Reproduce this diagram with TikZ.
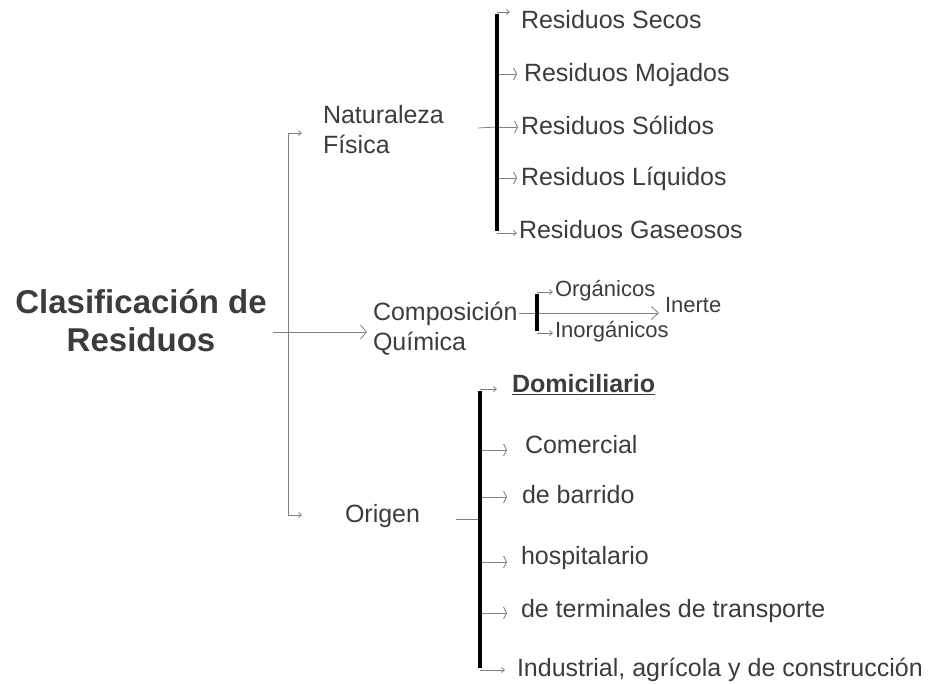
\documentclass[tikz,border=0pt]{standalone}
\usepackage{fontspec}
\setmainfont{Liberation Sans}
\usetikzlibrary{arrows.meta}
\definecolor{txt}{HTML}{3C3C3C}
\definecolor{ln}{HTML}{808080}
\tikzset{
  every node/.style={inner sep=0pt, outer sep=0pt, text=txt},
  lbl/.style={anchor=base west, font=\fontsize{25}{30}\selectfont},
  lblsm/.style={anchor=base west, font=\fontsize{22}{26}\selectfont},
  two/.style={anchor=west, align=left, font=\fontsize{25}{30}\selectfont},
  thinln/.style={draw=ln, line width=0.8pt},
  bar/.style={draw=black, line width=4pt},
  arrS/.style={thinln, -{Straight Barb[length=3pt,width=5pt]}},
  arrT/.style={thinln, -{Straight Barb[length=3pt,width=12pt]}},
  arrL/.style={thinln, -{Straight Barb[length=7pt,width=13pt]}},
}
\begin{document}
\begin{tikzpicture}[x=1pt,y=-1pt]
\useasboundingbox (0,0) rectangle (930,684);
% root
\node[align=center, font=\bfseries\fontsize{33}{38}\selectfont] (root) at (141,321) {Clasificación de\\Residuos};
% level 1
\node[two] (nat) at (323,130) {Naturaleza\\Física};
\node[two] (comp) at (373,329) {Composición\\Química};
\node[lbl] (orig) at (345,523) {Origen};
% spine
\coordinate (sT) at (288,133);
\coordinate (sB) at (288,515);
\coordinate (rR) at (273,332);
\draw[thinln] (sT) -- (sB);
\draw[arrS] (sT) -- ++(14,0);
\draw[arrS] (sB) -- ++(14,0);
\draw[thinln, -{Straight Barb[length=6pt,width=14pt]}] (rR) -- (367,332);
% Naturaleza fisica
\node[lbl] (n1) at (521,29) {Residuos Secos};
\node[lbl] (n2) at (524,82) {Residuos Mojados};
\node[lbl] (n3) at (521,135) {Residuos Sólidos};
\node[lbl] (n4) at (521,186) {Residuos Líquidos};
\node[lbl] (n5) at (519,239) {Residuos Gaseosos};
\coordinate (nb1) at (497,12);
\coordinate (nb2) at (497,74);
\coordinate (nb3) at (497,127);
\coordinate (nb4) at (497,178);
\coordinate (nb5) at (497,233);
\draw[thinln] (478,128) -- (nb3);
\draw[arrS] (nb1) -- (510,12);
\draw[arrT] (nb2) -- (517,74);
\draw[arrT] (nb3) -- (518,127);
\draw[arrT] (nb4) -- (517,178);
\draw[arrS] (nb5) -- (517,233);
\draw[bar] ([yshift=-2pt]nb1) -- ([yshift=2pt]nb5);
% Composicion quimica
\node[lblsm] (c1) at (555,297) {Orgánicos};
\node[lblsm] (c2) at (555,338) {Inorgánicos};
\node[lblsm] (c3) at (665,313) {Inerte};
\coordinate (cb1) at (537,292);
\coordinate (cbm) at (537,313);
\coordinate (cb2) at (537,333);
\draw[thinln] (519,313) -- (cbm);
\draw[arrS] (cb1) -- (553,292);
\draw[arrS] (cb2) -- (553,333);
\draw[arrL] (cbm) -- (659,313);
\draw[bar] ([yshift=-2pt]cb1) -- ([yshift=2pt]cb2);
% Origen
\node[lbl, font=\bfseries\fontsize{25}{30}\selectfont] (o1) at (512,393) {\underline{Domiciliario}};
\node[lbl] (o2) at (525,454) {Comercial};
\node[lbl] (o3) at (522,504) {de barrido};
\node[lbl] (o4) at (521,565) {hospitalario};
\node[lbl] (o5) at (521,617) {de terminales de transporte};
\node[lbl] (o6) at (517,676) {Industrial, agrícola y de construcción};
\coordinate (ob1) at (480,389);
\coordinate (ob2) at (480,450);
\coordinate (ob3) at (480,497);
\coordinate (ob4) at (480,562);
\coordinate (ob5) at (480,613);
\coordinate (ob6) at (480,670);
\draw[thinln] (456,519) -- (480,519);
\draw[arrS] (ob1) -- (497,389);
\draw[arrT] (ob2) -- (507,450);
\draw[arrT] (ob3) -- (507,497);
\draw[arrT] (ob4) -- (507,562);
\draw[arrT] (ob5) -- (507,613);
\draw[arrS] (ob6) -- (505,670);
\draw[bar] ([yshift=-2pt]ob1) -- ([yshift=2pt]ob6);
\end{tikzpicture}
\end{document}
